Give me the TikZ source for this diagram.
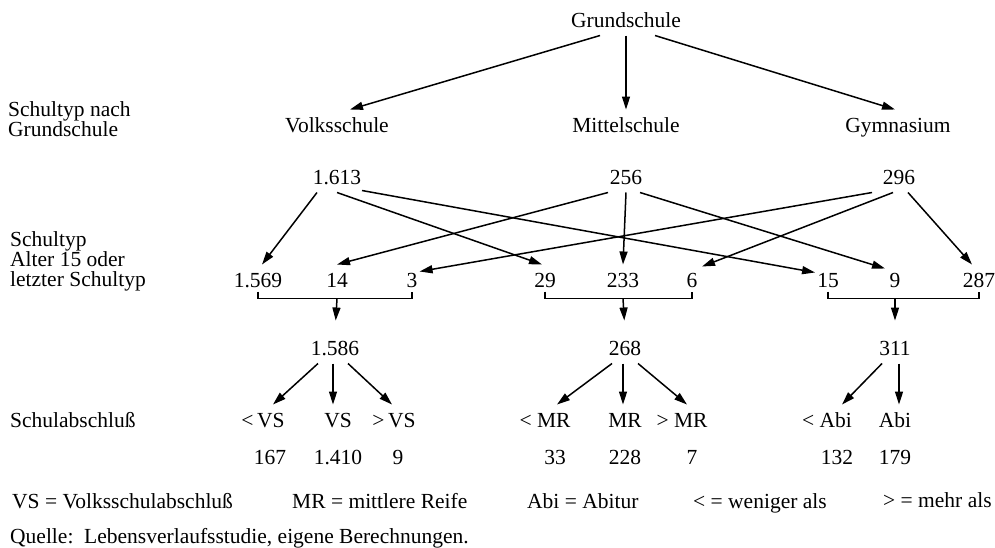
\documentclass[tikz,border=0pt]{standalone}
\usepackage{fontspec}
\setmainfont{Liberation Serif}
\usetikzlibrary{arrows.meta}
\begin{document}
\begin{tikzpicture}
      [x=1pt, y=-1pt,
      every node/.style={font=\fontsize{21.5}{20}\selectfont},
      box/.style={inner xsep=2pt, inner ysep=8pt, text height=14.6pt, text depth=0pt},
      lbl/.style={anchor=base west, inner sep=0pt},
      lblm/.style={anchor=north west, align=left, inner sep=0pt},
      arr/.style={-{Triangle[length=13pt,width=8pt]}, line width=1.5pt},
      brk/.style={line width=1.4pt},
      ]
      \useasboundingbox (0,0) rectangle (995,547);
      \node[lblm] (l1) at (8,101) {Schultyp nach\\Grundschule};
      \node[lblm] (l2) at (10,231) {Schultyp\\Alter 15 oder\\letzter Schultyp};
      \node[lbl] (l3) at (10,427) {Schulabschluß};
      \node[box] (gs) at (626,20) {Grundschule};
      \node[box] (vs) at (337,125) {Volksschule};
      \node[box] (ms) at (626,125) {Mittelschule};
      \node[box] (gy) at (898,125) {Gymnasium};
      \node[box] (v1613) at (337,177) {1.613};
      \node[box] (m256) at (626,177) {256};
      \node[box] (g296) at (899,177) {296};
      \node[box] (n1569) at (258,280) {1.569};
      \node[box] (n14) at (337,280) {14};
      \node[box] (n3) at (412,280) {3};
      \node[box] (n29) at (545,280) {29};
      \node[box] (n233) at (623,280) {233};
      \node[box] (n6) at (692,280) {6};
      \node[box] (n15) at (828,280) {15};
      \node[box] (n9) at (895,280) {9};
      \node[box] (n287) at (979,280) {287};
      \node[box] (s1586) at (335,348) {1.586};
      \node[box] (s268) at (625,348) {268};
      \node[box] (s311) at (895,348) {311};
      \node[box] (ltvs) at (263,420) {<\,VS};
      \node[box] (eqvs) at (338,420) {VS};
      \node[box] (gtvs) at (394,420) {>\,VS};
      \node[box] (ltmr) at (545,420) {< MR};
      \node[box] (eqmr) at (625,420) {MR};
      \node[box] (gtmr) at (682,420) {> MR};
      \node[box] (ltabi) at (827,420) {< Abi};
      \node[box] (eqabi) at (895,420) {Abi};
      \node[box] (c167) at (270,457) {167};
      \node[box] (c1410) at (338,457) {1.410};
      \node[box] (c9) at (398,457) {9};
      \node[box] (c33) at (555,457) {33};
      \node[box] (c228) at (625,457) {228};
      \node[box] (c7) at (692,457) {7};
      \node[box] (c132) at (837,457) {132};
      \node[box] (c179) at (895,457) {179};
      \node[lbl] (k1) at (12,508) {VS = Volksschulabschluß};
      \node[lbl] (k2) at (292,508) {MR = mittlere Reife};
      \node[lbl] (k3) at (527,508) {Abi = Abitur};
      \node[lbl] (k4) at (693,508) {< = weniger als};
      \node[lbl] (k5) at (883,507) {> = mehr als};
      \node[lbl] (src) at (10,543) {Quelle:\ \ Lebensverlaufsstudie, eigene Berechnungen.};
      \draw[arr] ([xshift=-26pt]gs.south) -- ([xshift=13pt]vs.north);
      \draw[arr] (gs.south) -- (ms.north);
      \draw[arr] ([xshift=29pt]gs.south) -- ([xshift=-3pt]gy.north);
      \draw[arr] ([xshift=-20pt]v1613.south) -- ([xshift=4pt]n1569.north);
      \draw[arr] (v1613.south) -- ([xshift=-3pt]n29.north);
      \draw[arr] ([xshift=25pt,yshift=2pt]v1613.south) -- ([yshift=-8pt]n15.north west);
      \draw[arr] ([xshift=-18pt]m256.south) -- (n14.north);
      \draw[arr] (m256.south) -- (n233.north);
      \draw[arr] ([xshift=14pt]m256.south) -- ([xshift=-10pt,yshift=-4pt]n9.north);
      \draw[arr] ([xshift=-27pt]g296.south) -- ([yshift=-7pt]n3.north east);
      \draw[arr] ([xshift=-6pt]g296.south) -- ([xshift=10pt,yshift=-2pt]n6.north);
      \draw[arr] ([xshift=9pt]g296.south) -- ([xshift=-7pt]n287.north);
      \draw[brk] ([yshift=4pt]n1569.south) |- ([yshift=-3pt]n3.south) -- ([yshift=4pt]n3.south);
      \draw[brk] ([yshift=4pt]n29.south) |- ([yshift=-3pt]n6.south) -- ([yshift=4pt]n6.south);
      \draw[brk] ([yshift=4pt]n15.south) |- ([yshift=-3pt]n287.south) -- ([yshift=4pt]n287.south);
      \draw[arr, shorten >=12pt] ([yshift=-3pt]n14.south) -- (s1586.north);
      \draw[arr, shorten >=12pt] ([yshift=-3pt]n233.south) -- (s268.north);
      \draw[arr, shorten >=12pt] ([yshift=-3pt]n9.south) -- (s311.north);
      \draw[arr] ([xshift=-17pt]s1586.south) -- ([xshift=10pt]ltvs.north);
      \draw[arr] ([xshift=-2pt]s1586.south) -- ([xshift=-5pt]eqvs.north);
      \draw[arr] ([xshift=13pt]s1586.south) -- ([xshift=-2pt]gtvs.north);
      \draw[arr] ([xshift=-13pt]s268.south) -- ([xshift=12pt]ltmr.north);
      \draw[arr] ([xshift=-2pt]s268.south) -- ([xshift=-2pt]eqmr.north);
      \draw[arr] ([xshift=13pt]s268.south) -- ([xshift=5pt]gtmr.north);
      \draw[arr] ([xshift=-13pt]s311.south) -- ([xshift=15pt]ltabi.north);
      \draw[arr] ([xshift=4pt]s311.south) -- ([xshift=4pt]eqabi.north);
      \end{tikzpicture}
\end{document}
